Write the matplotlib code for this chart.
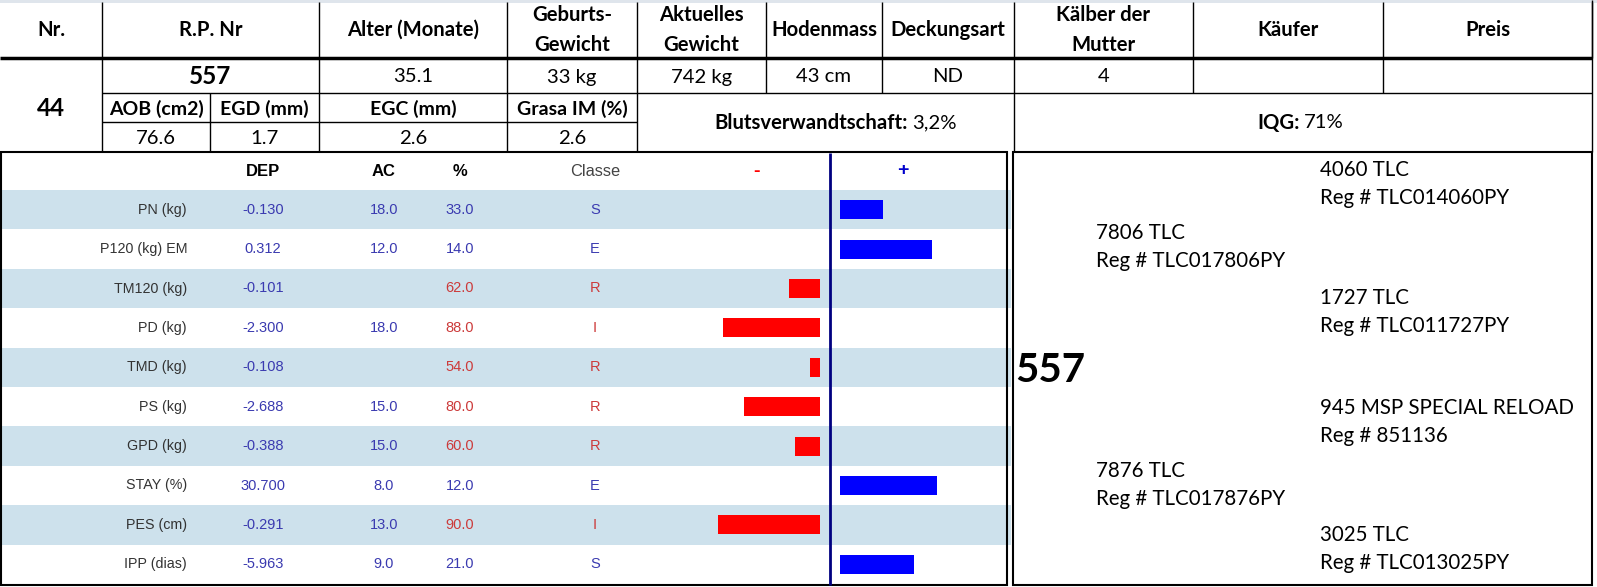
import matplotlib.pyplot as plt
from matplotlib.patches import Rectangle

# header table
head_labels = ['Nr.', 'R.P. Nr', 'Alter (Monate)', 'Geburts-\nGewicht', 'Aktuelles\nGewicht',
               'Hodenmass', 'Deckungsart', 'Kälber der\nMutter', 'Käufer', 'Preis']
head_values = ['44', '557', '35.1', '33 kg', '742 kg', '43 cm', 'ND', '4', '', '']
carc_labels = ['AOB (cm2)', 'EGD (mm)', 'EGC (mm)', 'Grasa IM (%)']
carc_values = ['76.6', '1.7', '2.6', '2.6']
blut = '3,2%'
iqg = '71%'

# DEP table
traits = ['PN (kg)', 'P120 (kg) EM', 'TM120 (kg)', 'PD (kg)', 'TMD (kg)', 'PS (kg)',
          'GPD (kg)', 'STAY (%)', 'PES (cm)', 'IPP (dias)']
dep = [-0.130, 0.312, -0.101, -2.300, -0.108, -2.688, -0.388, 30.700, -0.291, -5.963]
ac = [18.0, 12.0, None, 18.0, None, 15.0, 15.0, 8.0, 13.0, 9.0]
pct = [33.0, 14.0, 62.0, 88.0, 54.0, 80.0, 60.0, 12.0, 90.0, 21.0]
classe = ['S', 'E', 'R', 'I', 'R', 'R', 'R', 'E', 'I', 'S']
score = [17, 36, -12, -38, -4, -30, -10, 38, -40, 29]

# pedigree
ped_names = ['4060 TLC', '7806 TLC', '1727 TLC', '945 MSP SPECIAL RELOAD', '7876 TLC', '3025 TLC']
ped_regs = ['Reg # TLC014060PY', 'Reg # TLC017806PY', 'Reg # TLC011727PY', 'Reg # 851136',
            'Reg # TLC017876PY', 'Reg # TLC013025PY']
ped_gen = [2, 1, 2, 2, 1, 2]
animal = '557'

W, H = 1597, 587
fig = plt.figure(figsize=(15.97, 5.87), dpi=100)
ax = fig.add_axes([0, 0, 1, 1])
ax.set_xlim(0, W)
ax.set_ylim(H, 0)
ax.axis('off')

HF = 'Lato'
AF = 'Liberation Sans'
BLUE_T = '#3a3ab0'
RED_T = '#cc3a3a'
BAND = '#cde1ec'
FS = 14.6


def line(x0, x1, y0, y1, lw=1.0, c='black'):
    ax.plot([x0, x1], [y0, y1], color=c, lw=lw, solid_capstyle='butt')


# top header
ax.add_patch(Rectangle((0, 0), W, 3, color='#dfe5ec', lw=0))
cols = [0, 102, 319, 507, 637, 766, 882, 1014, 1193, 1383, 1592]
for i, lab in enumerate(head_labels):
    cx = (cols[i] + cols[i + 1]) / 2
    ax.text(cx, 30, lab, ha='center', va='center', fontsize=FS, fontweight='bold',
            family=HF, linespacing=1.6)
for x in cols[1:]:
    line(x, x, 2, 58)
line(0, 1592, 58, 58, lw=2.5)

# second row
ax.text(51, 108, head_values[0], ha='center', va='center', fontsize=17.5, fontweight='bold', family=HF)
ax.text(210, 77, head_values[1], ha='center', va='center', fontsize=17.5, fontweight='bold', family=HF)
for i in range(2, len(head_values)):
    cx = (cols[i] + cols[i + 1]) / 2
    ax.text(cx, 77, head_values[i], ha='center', va='center', fontsize=FS, family=HF)

ccols = [102, 210, 319, 507, 637]
for i in range(4):
    cx = (ccols[i] + ccols[i + 1]) / 2
    ax.text(cx, 109, carc_labels[i], ha='center', va='center', fontsize=14, fontweight='bold', family=HF)
    ax.text(cx, 138, carc_values[i], ha='center', va='center', fontsize=FS, family=HF)

t = ax.text(908, 123, 'Blutsverwandtschaft:', ha='right', va='center', fontsize=FS,
            fontweight='bold', family=HF)
ax.annotate(blut, xy=(1, 0.5), xycoords=t, xytext=(3, 0), textcoords='offset points',
            ha='left', va='center', fontsize=FS, family=HF)
t = ax.text(1300, 123, 'IQG:', ha='right', va='center', fontsize=FS, fontweight='bold', family=HF)
ax.annotate(iqg, xy=(1, 0.5), xycoords=t, xytext=(3, 0), textcoords='offset points',
            ha='left', va='center', fontsize=FS, family=HF)

line(102, 1592, 93, 93)
line(102, 637, 122, 122)
for x in [102, 319, 507, 637, 1014]:
    line(x, x, 58, 152)
for x in [766, 882, 1193, 1383]:
    line(x, x, 58, 93)
line(210, 210, 93, 152)
line(1592, 1592, 0, 152)

# DEP panel
y0, rh = 190, 39.4
n = len(traits)
for i in range(n):
    if i % 2 == 0:
        ax.add_patch(Rectangle((1, y0 + i * rh), 1010, rh, color=BAND, lw=0, zorder=0))

ax.text(263, 171, 'DEP', ha='center', va='center', fontsize=12, fontweight='bold', family=AF)
ax.text(384, 171, 'AC', ha='center', va='center', fontsize=12, fontweight='bold', family=AF)
ax.text(460, 171, '%', ha='center', va='center', fontsize=12, fontweight='bold', family=AF)
ax.text(595, 171, 'Classe', ha='center', va='center', fontsize=11.8, color='#444444', family=AF)
ax.text(757, 172, '-', ha='center', va='center', fontsize=14, fontweight='bold', color='red', family=AF)
ax.text(903, 171, '+', ha='center', va='center', fontsize=14, fontweight='bold', color='#0000cc', family=AF)

for i in range(n):
    yc = y0 + (i + 0.5) * rh
    c = RED_T if pct[i] > 50 else BLUE_T
    ax.text(187, yc, traits[i], ha='right', va='center', fontsize=10.3, color='#333333', family=AF)
    ax.text(263, yc, f'{dep[i]:.3f}', ha='center', va='center', fontsize=10.5, color=BLUE_T, family=AF)
    if ac[i] is not None:
        ax.text(384, yc, f'{ac[i]:.1f}', ha='center', va='center', fontsize=10.5, color=BLUE_T, family=AF)
    ax.text(460, yc, f'{pct[i]:.1f}', ha='center', va='center', fontsize=10.5, color=c, family=AF)
    ax.text(595, yc, classe[i], ha='center', va='center', fontsize=10.5, color=c, family=AF)

line(830, 830, 153, 585, lw=2, c='#000080')

# bars: 2.55 px per unit, negative side ends at 820, positive starts at 840
px = 2.55
y_lo, y_hi = y0, y0 + n * rh
neg_w, pos_w = 45, 65


def frac_box(x_left, x_right):
    return [x_left / W, 1 - y_hi / H, (x_right - x_left) / W, (y_hi - y_lo) / H]


nax = fig.add_axes(frac_box(820 - neg_w * px, 820))
pax = fig.add_axes(frac_box(840, 840 + pos_w * px))
neg = [s if s < 0 else 0 for s in score]
pos = [s if s > 0 else 0 for s in score]
nax.barh(range(n), neg, height=0.48, color='#ff0000', edgecolor='none')
pax.barh(range(n), pos, height=0.48, color='#0000ff', edgecolor='none')
nax.set_xlim(-neg_w, 0)
pax.set_xlim(0, pos_w)
for a in (nax, pax):
    a.set_ylim(n - 0.5, -0.5)
    a.axis('off')
    a.patch.set_alpha(0)

# panel borders
ax.add_patch(Rectangle((1, 152), 1006, 433, fill=False, ec='black', lw=1.5))
ax.add_patch(Rectangle((1013, 152), 579, 433, fill=False, ec='black', lw=1.5))

# pedigree
ax.text(1015, 371, animal, ha='left', va='center', fontsize=29, fontweight='bold', family=HF)
gen_x = {1: 1096, 2: 1320}
ped_y = [170, 233, 298, 408, 471, 535]
for i in range(len(ped_names)):
    x = gen_x[ped_gen[i]]
    ax.text(x, ped_y[i], ped_names[i], ha='left', va='center', fontsize=14.8, family=HF)
    ax.text(x, ped_y[i] + 28, ped_regs[i], ha='left', va='center', fontsize=14.8, family=HF)

fig.savefig('out.png', dpi=100)
